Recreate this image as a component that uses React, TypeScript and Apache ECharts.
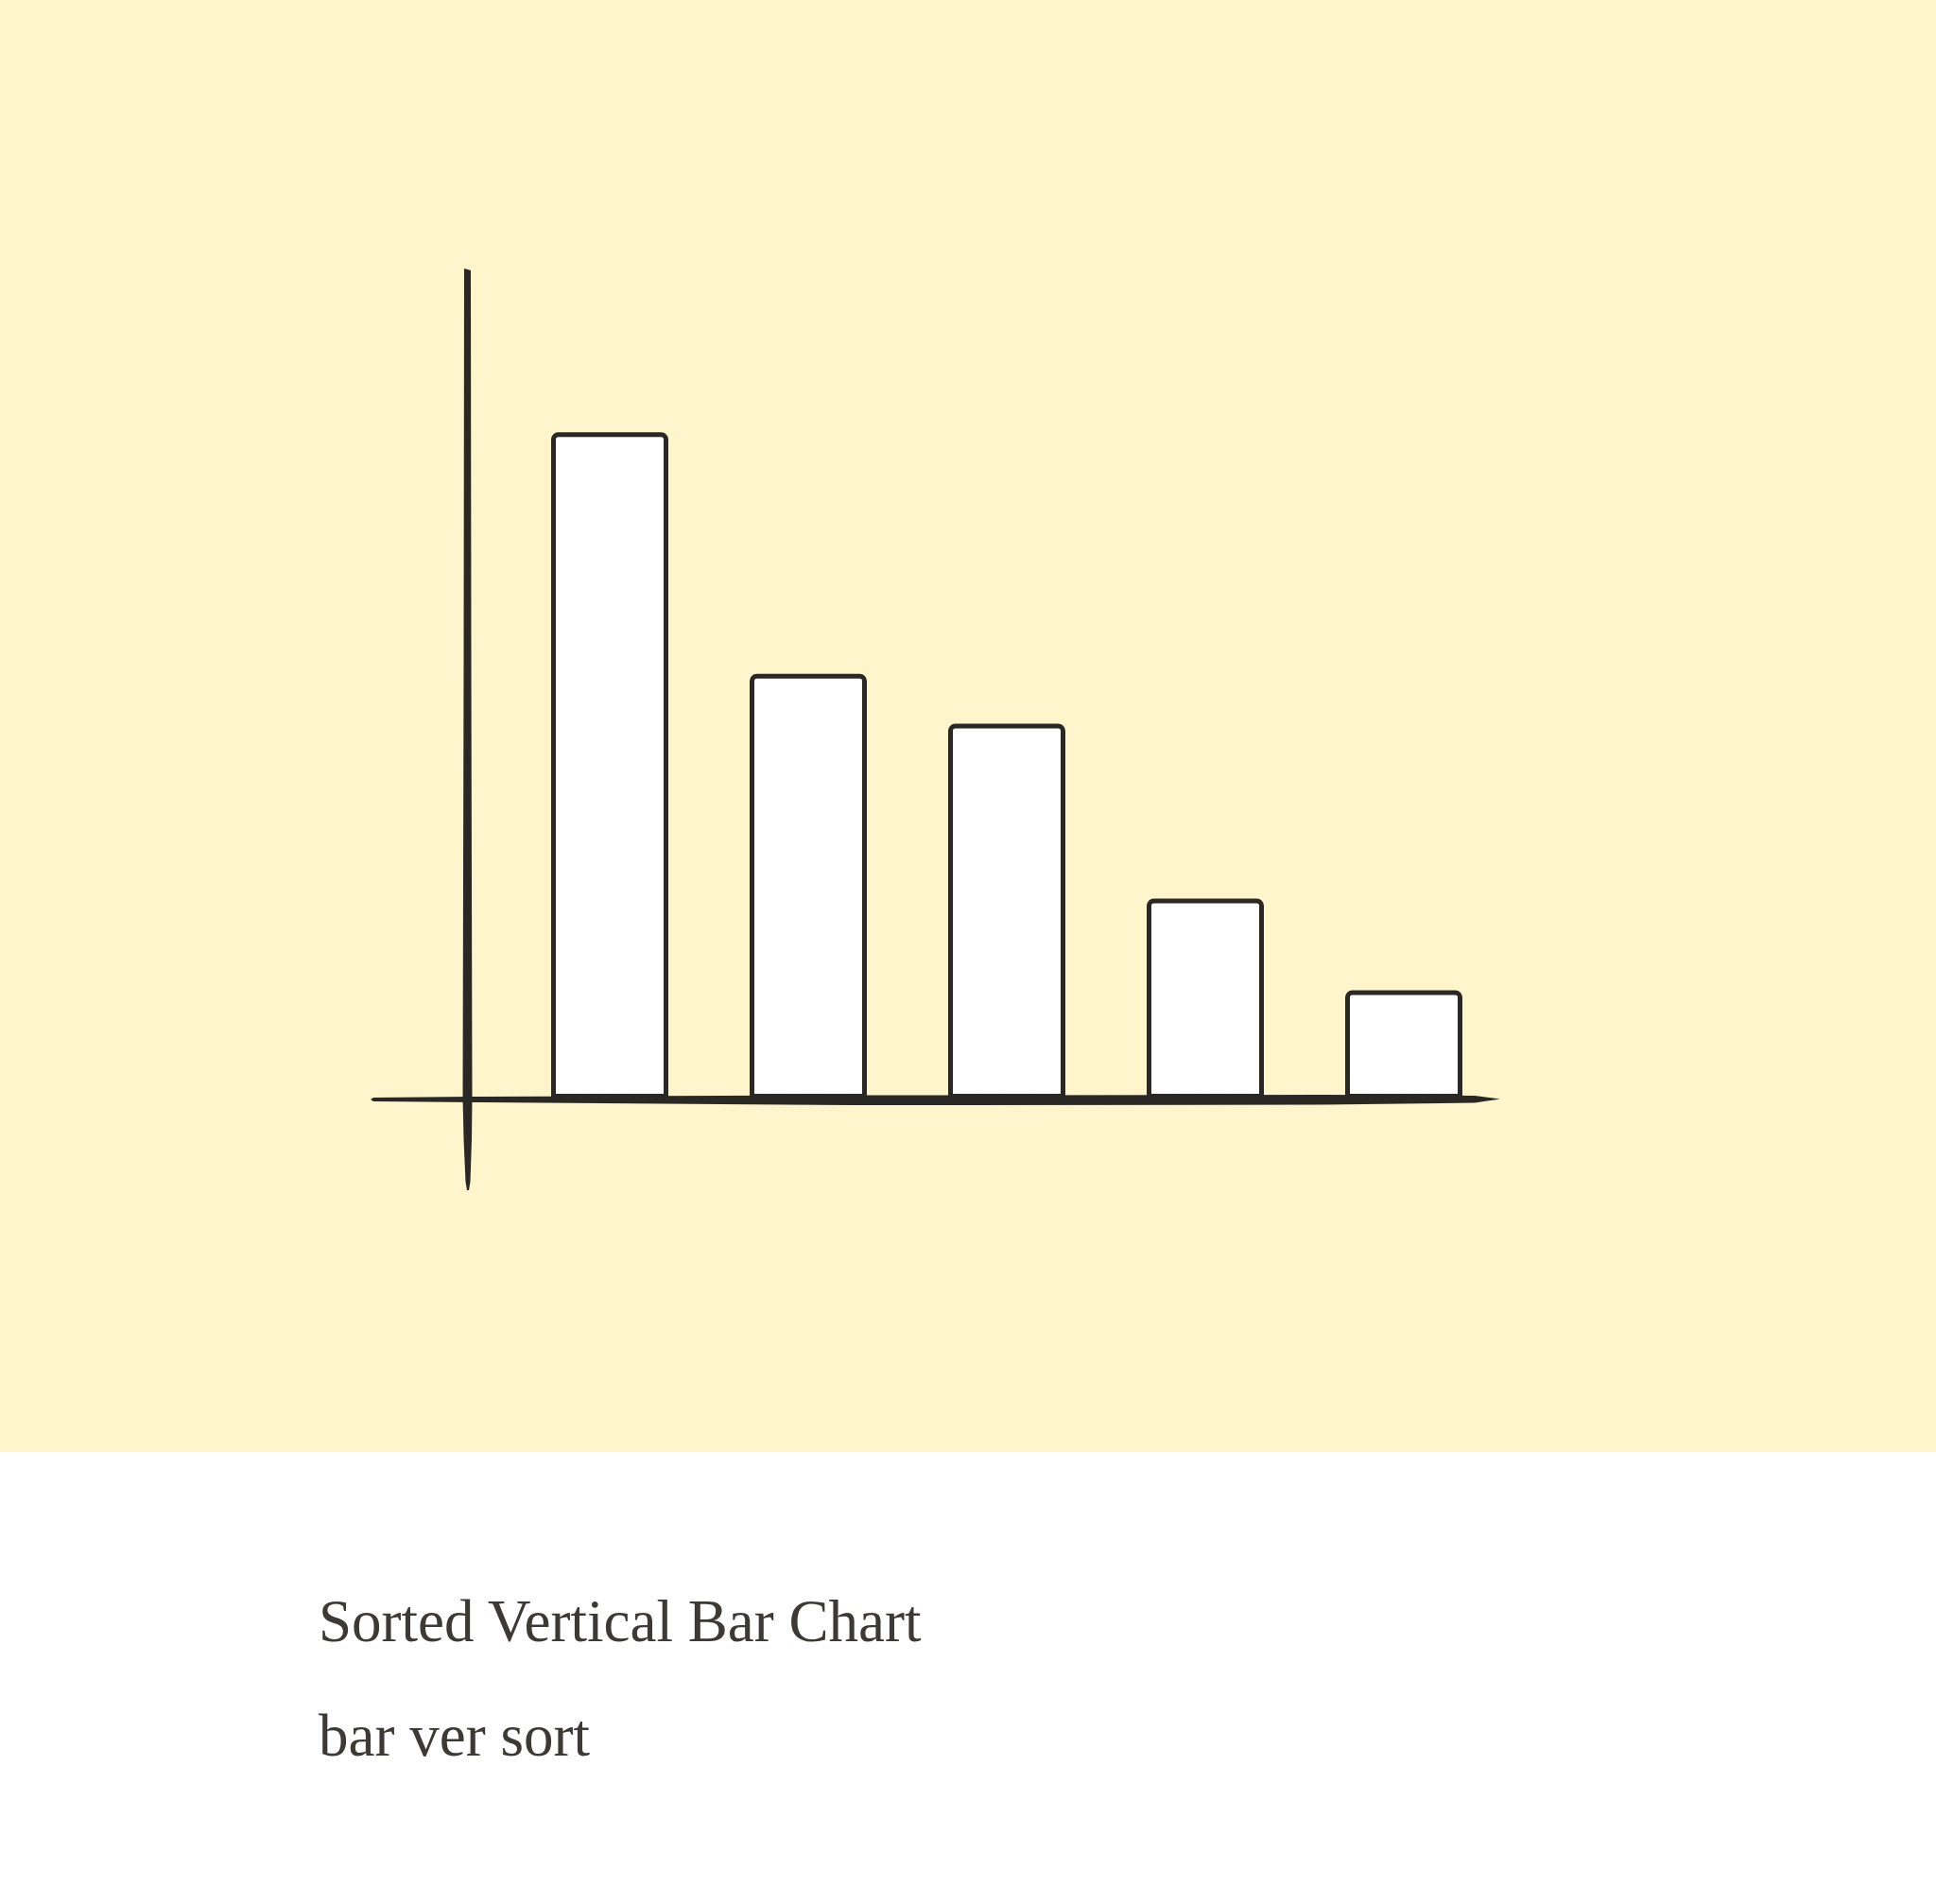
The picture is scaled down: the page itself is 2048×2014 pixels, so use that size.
import React, { useEffect, useRef } from "react";
import * as echarts from "echarts";

const categories = ["A", "B", "C", "D", "E"];
const values = [80, 51, 45, 24, 13];
const yMax = 100;
const titleText = "Sorted Vertical Bar Chart";
const subtitleText = "bar ver sort";

const INK = "#2a2824";
const BG = "#fef5cc";

export default function App() {
  const ref = useRef<HTMLDivElement>(null);
  useEffect(() => {
    document.body.style.margin = "0";
    const chart = echarts.init(ref.current!, null, { renderer: "svg" });
    chart.setOption({
      animation: false,
      backgroundColor: "#ffffff",
      grid: { left: 540, right: 458, top: 281, bottom: 852 },
      xAxis: {
        type: "category",
        data: categories,
        axisLine: { show: false },
        axisTick: { show: false },
        axisLabel: { show: false },
      },
      yAxis: {
        type: "value",
        min: 0,
        max: yMax,
        axisLine: { show: false },
        axisTick: { show: false },
        axisLabel: { show: false },
        splitLine: { show: false },
      },
      series: [
        {
          type: "bar",
          data: values,
          barWidth: 124,
          itemStyle: {
            color: "#ffffff",
            borderColor: INK,
            borderWidth: 5,
            borderRadius: [5, 5, 0, 0],
          },
          z: 5,
        },
      ],
      graphic: [
        {
          type: "rect",
          z: -10,
          silent: true,
          shape: { x: 0, y: 0, width: 2048, height: 1536 },
          style: { fill: BG },
        },
        {
          type: "polygon",
          z: 100,
          silent: true,
          shape: {
            points: [
              [491, 284],
              [498, 286],
              [498.5, 700],
              [499.5, 1160],
              [499, 1205],
              [497.5, 1250],
              [496, 1259],
              [494, 1259],
              [492.5, 1250],
              [490.5, 1205],
              [489.5, 1160],
              [490.5, 700],
            ],
          },
          style: { fill: INK },
        },
        {
          type: "polygon",
          z: 100,
          silent: true,
          shape: {
            points: [
              [395, 1161],
              [500, 1160],
              [900, 1158.5],
              [1400, 1158],
              [1560, 1159],
              [1587, 1162.5],
              [1560, 1166.5],
              [1400, 1168.5],
              [900, 1169],
              [500, 1166],
              [395, 1165],
              [392, 1163],
            ],
          },
          style: { fill: INK },
        },
        {
          type: "text",
          z: 100,
          x: 337,
          y: 1746,
          style: {
            text: titleText,
            fill: "#3d3935",
            font: "63px 'Liberation Serif'",
            align: "left",
            verticalAlign: "bottom",
          },
        },
        {
          type: "text",
          z: 100,
          x: 337,
          y: 1867,
          style: {
            text: subtitleText,
            fill: "#3d3935",
            font: "63px 'Liberation Serif'",
            align: "left",
            verticalAlign: "bottom",
          },
        },
      ],
    });
    return () => chart.dispose();
  }, []);
  return (
    <div
      ref={ref}
      style={{ position: "fixed", left: 0, top: 0, width: 2048, height: 2014 }}
    />
  );
}
